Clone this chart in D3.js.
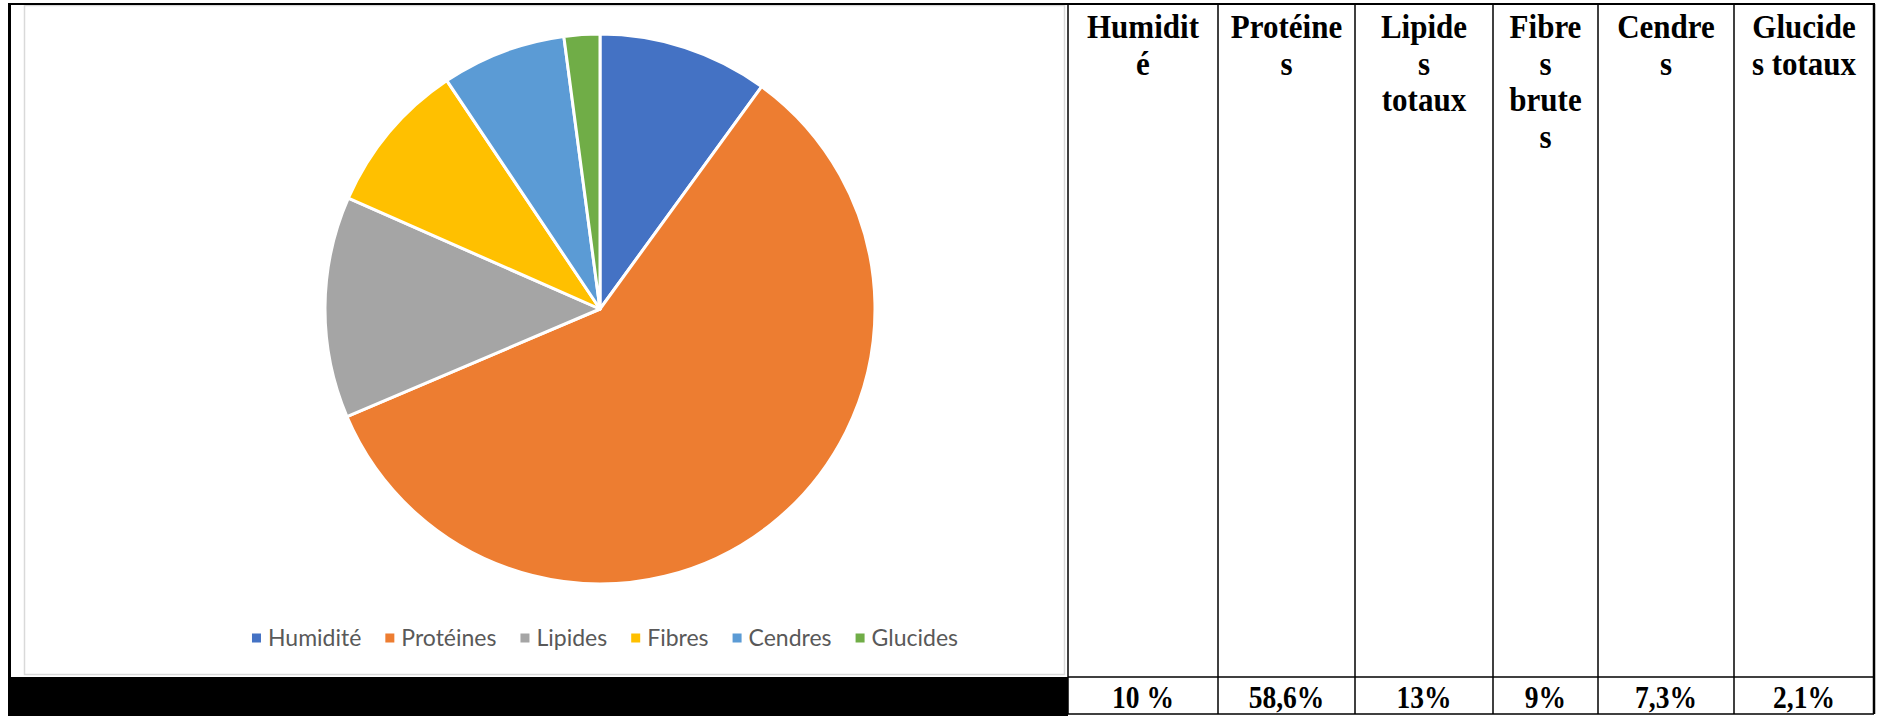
<!DOCTYPE html>
<html>
<head>
<meta charset="utf-8">
<script src="https://cdn.jsdelivr.net/npm/d3@7"></script>
<style>
  html, body { margin: 0; padding: 0; background: #fff; }
  svg { display: block; }
</style>
</head>
<body>
<svg id="chart" width="1879" height="716"></svg>
<script>
var categories = ["Humidité", "Protéines", "Lipides", "Fibres", "Cendres", "Glucides"];
var values = [10, 58.6, 13, 9, 7.3, 2.1];
var colors = ["#4472C4", "#ED7D31", "#A5A5A5", "#FFC000", "#5B9BD5", "#70AD47"];
var headerLines = [
  ["Humidit", "é"],
  ["Protéine", "s"],
  ["Lipide", "s", "totaux"],
  ["Fibre", "s", "brute", "s"],
  ["Cendre", "s"],
  ["Glucide", "s totaux"]
];
var valueLabels = ["10 %", "58,6%", "13%", "9%", "7,3%", "2,1%"];
var columnEdges = [1068, 1218, 1355, 1493, 1598, 1734, 1874];

var svg = d3.select("#chart");

// chart frame (excel style)
svg.append("rect")
  .attr("x", 24.5).attr("y", 5.5)
  .attr("width", 1040).attr("height", 669)
  .attr("fill", "#fff")
  .attr("stroke", "#d9d9d9")
  .attr("stroke-width", 1.5);

// pie
var cx = 600, cy = 309, radius = 275;
var pie = d3.pie().sort(null).value(function(d) { return d; });
var arc = d3.arc().innerRadius(0).outerRadius(radius);

var gPie = svg.append("g").attr("transform", "translate(" + cx + "," + cy + ")");
gPie.selectAll("path.slice")
  .data(pie(values))
  .enter().append("path")
  .attr("class", "slice")
  .attr("d", arc)
  .attr("fill", function(d, i) { return colors[i]; })
  .attr("stroke", "#fff")
  .attr("stroke-width", 3)
  .attr("stroke-linejoin", "round");

// legend
var legendY = 638, legendCenter = 605, markerSize = 9, markerGap = 7, itemGap = 24;
var gLegend = svg.append("g");
var items = gLegend.selectAll("g.item")
  .data(categories)
  .enter().append("g")
  .attr("class", "item");
items.append("rect")
  .attr("width", markerSize).attr("height", markerSize)
  .attr("y", legendY - markerSize / 2)
  .attr("fill", function(d, i) { return colors[i]; });
items.append("text")
  .attr("y", legendY + 8)
  .attr("font-family", "Lato, 'Open Sans', sans-serif")
  .attr("font-size", "23px")
  .attr("fill", "#595959")
  .text(function(d) { return d; });

var widths = [];
items.select("text").each(function() { widths.push(this.getComputedTextLength()); });
var total = d3.sum(widths) + categories.length * (markerSize + markerGap) + (categories.length - 1) * itemGap;
var xPos = legendCenter - total / 2;
items.each(function(d, i) {
  var g = d3.select(this);
  g.select("rect").attr("x", xPos);
  g.select("text").attr("x", xPos + markerSize + markerGap);
  xPos += markerSize + markerGap + widths[i] + itemGap;
});

// black bar under the chart
svg.append("rect")
  .attr("x", 8).attr("y", 677)
  .attr("width", columnEdges[0] - 8).attr("height", 39)
  .attr("fill", "#000");

// table lines
var tableTop = 4, rowLine = 677, tableBottom = 714;
svg.append("line")
  .attr("x1", 8).attr("x2", columnEdges[columnEdges.length - 1] + 1)
  .attr("y1", tableTop).attr("y2", tableTop)
  .attr("stroke", "#000").attr("stroke-width", 2);
svg.append("line")
  .attr("x1", 9.5).attr("x2", 9.5)
  .attr("y1", tableTop).attr("y2", 716)
  .attr("stroke", "#000").attr("stroke-width", 3);
svg.selectAll("line.col")
  .data(columnEdges)
  .enter().append("line")
  .attr("class", "col")
  .attr("x1", function(d) { return d; }).attr("x2", function(d) { return d; })
  .attr("y1", tableTop).attr("y2", tableBottom)
  .attr("stroke", "#000")
  .attr("stroke-width", function(d, i) { return i === columnEdges.length - 1 ? 2.5 : 1.5; });
[rowLine, tableBottom].forEach(function(y) {
  svg.append("line")
    .attr("x1", columnEdges[0]).attr("x2", columnEdges[columnEdges.length - 1])
    .attr("y1", y).attr("y2", y)
    .attr("stroke", "#000").attr("stroke-width", 1.5);
});

// header text
var colCenters = d3.range(categories.length).map(function(i) {
  return (columnEdges[i] + columnEdges[i + 1]) / 2;
});
var headerFirst = 38, headerStep = 36.5;
headerLines.forEach(function(lines, i) {
  lines.forEach(function(line, j) {
    svg.append("text")
      .attr("transform", "translate(" + colCenters[i] + "," + (headerFirst + j * headerStep) + ") scale(0.94,1)")
      .attr("text-anchor", "middle")
      .attr("font-family", "'Liberation Serif', 'Times New Roman', serif")
      .attr("font-weight", "bold")
      .attr("font-size", "33px")
      .attr("fill", "#000")
      .text(line);
  });
});

// value row
svg.selectAll("text.val")
  .data(valueLabels)
  .enter().append("text")
  .attr("class", "val")
  .attr("transform", function(d, i) { return "translate(" + colCenters[i] + ",708) scale(0.86,1)"; })
  .attr("text-anchor", "middle")
  .attr("font-family", "'Liberation Serif', 'Times New Roman', serif")
  .attr("font-weight", "bold")
  .attr("font-size", "32px")
  .attr("fill", "#000")
  .text(function(d) { return d; });
</script>
</body>
</html>
